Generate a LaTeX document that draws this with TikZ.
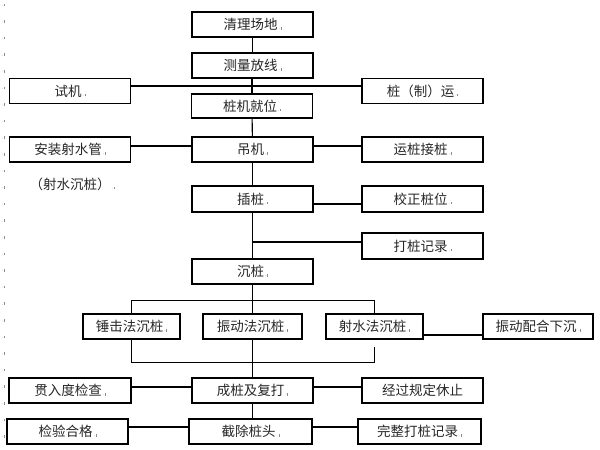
\documentclass[tikz,border=0pt]{standalone}
\usepackage{fontspec}
\setmainfont{Noto Sans CJK SC}
\usepackage{tikz}
\newcommand*{\parmark}{{\color{black!45}\fontsize{5}{5}\selectfont\kern1pt.\kern0.6pt\rule{0.6pt}{2.6pt}}}
\begin{document}
\begin{tikzpicture}[x=1pt, y=-1pt, line width=1.1pt,
  stepbox/.style={draw, rectangle, minimum width=121pt, minimum height=25pt, inner sep=0pt,
    font=\fontsize{13.5}{14}\selectfont, text=black!85},
  methodbox/.style={stepbox, minimum width=97pt}]
\useasboundingbox (0,0) rectangle (600,450);
% margin marks
\foreach \k in {0,...,26}
  \node[inner sep=0pt] at (2.5, 5+16.6*\k) {\parmark};
\node[stepbox] (qingli) at (252.5, 24.5) {清理场地\parmark};
\node[stepbox] (celiang) at (252.5, 65.5) {测量放线\parmark};
\node[stepbox] (shiji) at (70, 91) {试机\parmark};
\node[stepbox] (zhiyun) at (422.5, 91) {桩（制）运\parmark};
\node[stepbox, minimum height=24pt] (jiuwei) at (252, 106) {桩机就位\parmark};
\node[stepbox] (diaoji) at (252.5, 149.5) {吊机\parmark};
\node[stepbox] (anzhuang) at (70, 149.5) {安装射水管\parmark};
\node[stepbox] (jiezhuang) at (422.5, 149.5) {运桩接桩\parmark};
\node[font=\fontsize{13.5}{14}\selectfont, text=black!85] (sheshuinote) at (72, 184) {（射水沉桩）\parmark};
\node[stepbox, minimum height=26pt] (chazhuang) at (252.5, 199) {插桩\parmark};
\node[stepbox, minimum height=26pt] (jiaozheng) at (422.5, 199) {校正桩位\parmark};
\node[stepbox, minimum height=26pt] (jilu) at (422.5, 246) {打桩记录\parmark};
\node[stepbox] (chenzhuang) at (252.5, 271.5) {沉桩\parmark};
\node[methodbox] (chuiji) at (131.5, 326.5) {锤击法沉桩\parmark};
\node[methodbox, minimum width=99pt] (zhendong) at (252.5, 326.5) {振动法沉桩\parmark};
\node[methodbox] (sheshui) at (374.5, 326.5) {射水法沉桩\parmark};
\node[methodbox, minimum width=110pt] (peihe) at (538, 326.5) {振动配合下沉\parmark};
\node[stepbox] (fuda) at (252.5, 390.5) {成桩及复打\parmark};
\node[stepbox, minimum width=122pt] (guanru) at (70, 390.5) {贯入度检查\parmark};
\node[stepbox] (xiuzhi) at (422.5, 390.5) {经过规定休止};
\node[stepbox, minimum width=123pt] (jiechu) at (250.5, 431.5) {截除桩头\parmark};
\node[stepbox] (hege) at (67.5, 431.5) {检验合格\parmark};
\node[stepbox, minimum width=123pt] (wanzheng) at (419.5, 431.5) {完整打桩记录\parmark};

% main line
\draw (qingli) -- (celiang);
\draw (celiang.south -| jiuwei.north) -- (jiuwei);
\draw (jiuwei) -- (diaoji);
\draw (diaoji) -- (chazhuang);
\draw (chazhuang) -- (chenzhuang);
\draw (chenzhuang) -- (zhendong);
\draw (zhendong) -- (fuda);
\draw (fuda) -- (jiechu.north -| fuda.south);
% side branches
\draw ([yshift=5pt]shiji.east) -- ([yshift=5pt]zhiyun.west);
\draw ([yshift=3.5pt]anzhuang.east) -- ([yshift=3.5pt]diaoji.west);
\draw ([yshift=3.5pt]diaoji.east) -- ([yshift=3.5pt]jiezhuang.west);
\draw ([yshift=-5pt]chazhuang.east) -- ([yshift=-5pt]jiaozheng.west);
\coordinate (tojilu) at (253, 242);
\draw (tojilu) -- (tojilu -| jilu.west);
\draw (chuiji.north) -- ++(0,-13) -| (sheshui.north);
\coordinate (sheshuiend) at ([yshift=-7pt]sheshui.south);
\draw (chuiji.south) -- ++(0,23) -| (sheshuiend);
\draw ([yshift=-8.5pt]sheshui.east) -- ([yshift=-8.5pt]peihe.west);
\draw ([yshift=3.5pt]guanru.east) -- ([yshift=3.5pt]fuda.west);
\draw ([yshift=3.5pt]fuda.east) -- ([yshift=3.5pt]xiuzhi.west);
\draw ([yshift=4.5pt]hege.east) -- ([yshift=4.5pt]jiechu.west);
\draw ([yshift=4.5pt]jiechu.east) -- ([yshift=4.5pt]wanzheng.west);
\end{tikzpicture}
\end{document}
